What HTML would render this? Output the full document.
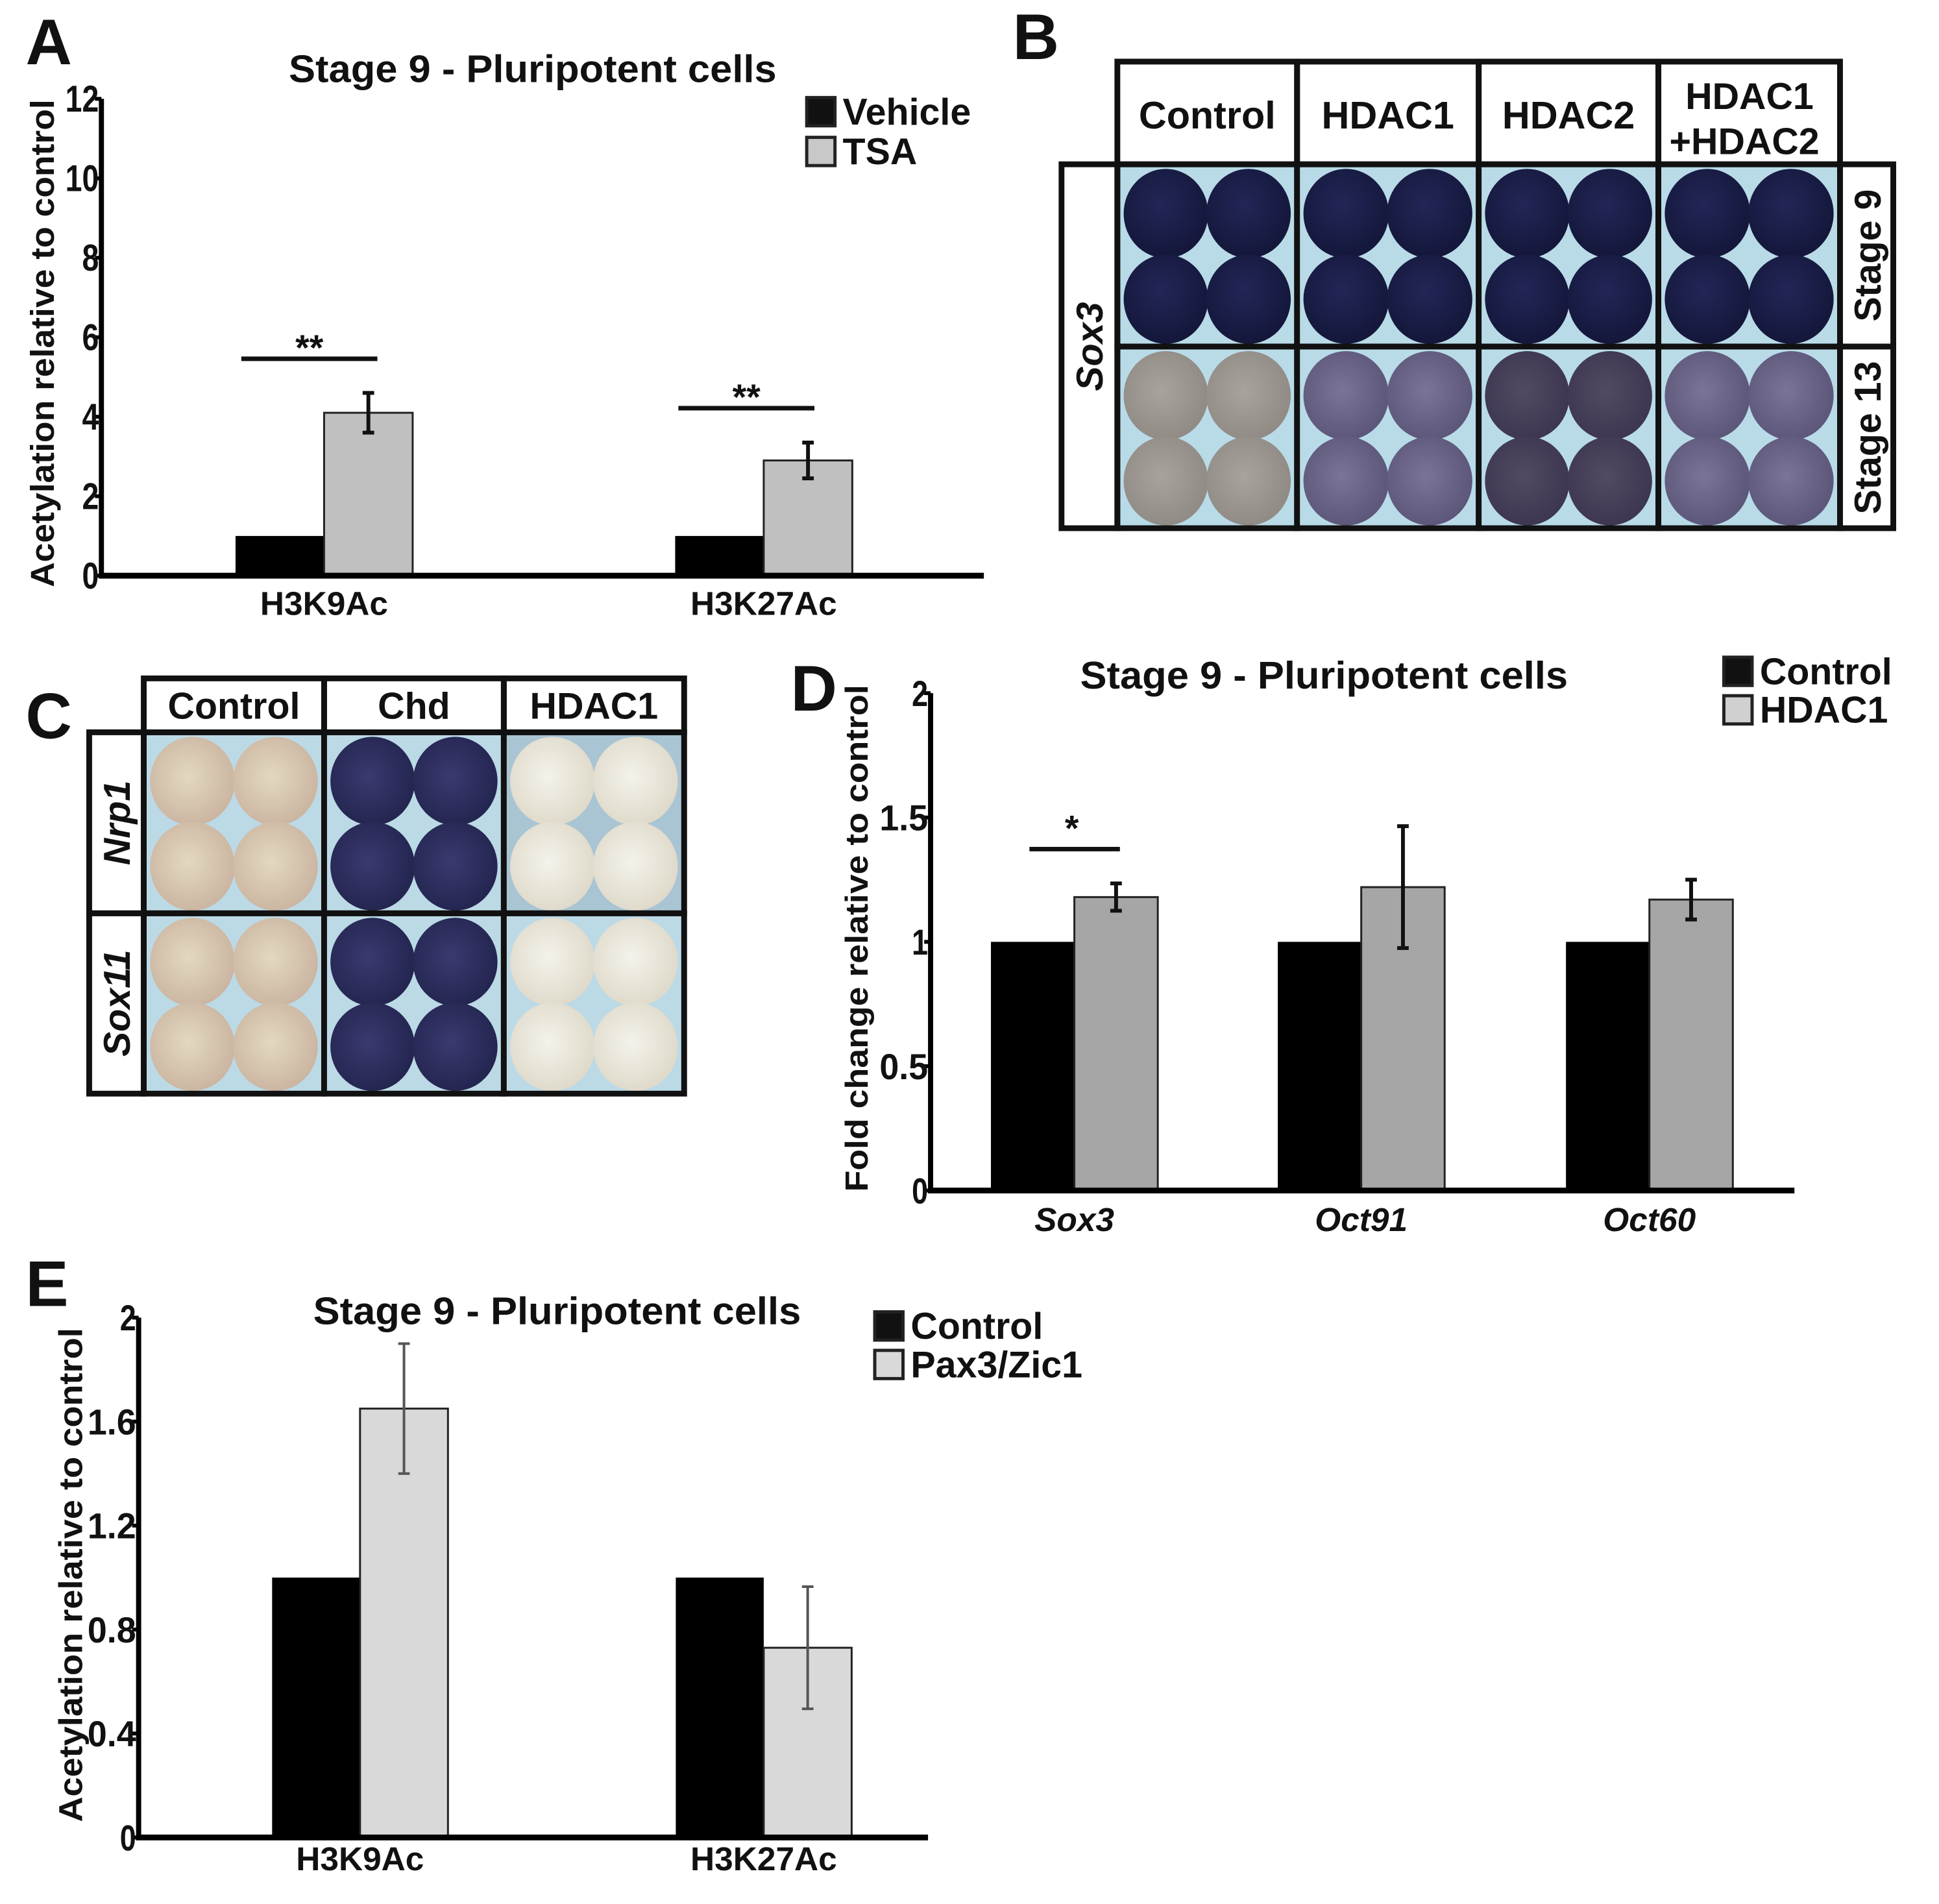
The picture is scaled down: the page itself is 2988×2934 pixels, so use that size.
<!DOCTYPE html>
<html><head><meta charset="utf-8"><style>
html,body{margin:0;padding:0;background:#fff}
svg{display:block}
text{font-family:"Liberation Sans",Arial,sans-serif;font-weight:bold;fill:#111}
</style></head><body>
<svg id="fig" width="2988" height="2934" viewBox="0 0 2988 2934" xmlns="http://www.w3.org/2000/svg">
<defs>
<radialGradient id="gNavy" cx="45%" cy="40%" r="60%"><stop offset="0" stop-color="#222657"/><stop offset="1" stop-color="#14173a"/></radialGradient>
<radialGradient id="gGrey" cx="45%" cy="45%" r="60%"><stop offset="0" stop-color="#a8a39c"/><stop offset="1" stop-color="#8f8984"/></radialGradient>
<radialGradient id="gPurp" cx="45%" cy="45%" r="60%"><stop offset="0" stop-color="#7a7496"/><stop offset="1" stop-color="#5a5578"/></radialGradient>
<radialGradient id="gDark" cx="45%" cy="45%" r="60%"><stop offset="0" stop-color="#514a62"/><stop offset="1" stop-color="#3c3550"/></radialGradient>
<radialGradient id="gBeige" cx="45%" cy="45%" r="60%"><stop offset="0" stop-color="#e3d8c0"/><stop offset="1" stop-color="#c9b39f"/></radialGradient>
<radialGradient id="gChd" cx="45%" cy="45%" r="60%"><stop offset="0" stop-color="#3a3a70"/><stop offset="1" stop-color="#22244e"/></radialGradient>
<radialGradient id="gWhite" cx="45%" cy="45%" r="60%"><stop offset="0" stop-color="#f4f2ea"/><stop offset="1" stop-color="#ddd8c8"/></radialGradient>
</defs>
<g transform="scale(0.989)">
<g id="panelA"></g>
<g id="panelB"></g>
<g id="panelC"></g>
<g id="panelD"></g>
<g id="panelE"></g>
</g>
</svg>
<script>
// ---- Data ----
const aCategories = ["H3K9Ac","H3K27Ac"];
const aVehicle = [1,1];
const aTSA = [4.1,2.9];
const aTSAErr = [0.5,0.45];
const aTicks = [0,2,4,6,8,10,12];
const aSig = ["**","**"];

const dCategories = ["Sox3","Oct91","Oct60"];
const dControl = [1,1,1];
const dHDAC1 = [1.18,1.22,1.17];
const dHDAC1Err = [0.055,0.245,0.08];
const dTicks = [0,0.5,1,1.5,2];
const dTickLabels = ["0","0.5","1","1.5","2"];

const eCategories = ["H3K9Ac","H3K27Ac"];
const eControl = [1,1];
const ePax = [1.65,0.73];
const ePaxErr = [0.25,0.235];
const eTicks = [0,0.4,0.8,1.2,1.6,2];
const eTickLabels = ["0","0.4","0.8","1.2","1.6","2"];

const NS="http://www.w3.org/2000/svg";
function mk(parent,tag,attrs,txt){const e=document.createElementNS(NS,tag);for(const k in attrs)e.setAttribute(k,attrs[k]);if(txt!==undefined)e.textContent=txt;parent.appendChild(e);return e;}

function chart(g,cfg){
  const y=v=>cfg.y0-(v-cfg.vmin)/(cfg.vmax-cfg.vmin)*(cfg.y0-cfg.ytop);
  let ax=mk(g,'line',{x1:cfg.x0,y1:cfg.ytop,x2:cfg.x0,y2:cfg.y0+4,stroke:'#000','stroke-width':8});
  
  cfg.ticks.forEach((t,i)=>{
    const tk=mk(g,'line',{x1:cfg.x0-10,y1:y(t),x2:cfg.x0,y2:y(t),stroke:'#000','stroke-width':6});
    
    const tl=mk(g,'text',{x:cfg.x0-4,y:y(t)+20,'text-anchor':'end','font-size':cfg.tickFs,textLength:cfg.tickLabels[i].length*cfg.tickFs*0.45,lengthAdjust:'spacingAndGlyphs'},cfg.tickLabels[i]);
    
  });
  const bw=cfg.barW;
  cfg.cats.forEach((c,i)=>{
    const cx=cfg.centers[i];
    const b1=mk(g,'rect',{x:cx-bw,y:y(cfg.s1[i]),width:bw,height:cfg.y0-y(cfg.s1[i]),fill:'#000'});
    
    const b2=mk(g,'rect',{x:cx,y:y(cfg.s2[i]),width:bw,height:cfg.y0-y(cfg.s2[i]),fill:cfg.c2,stroke:'#222','stroke-width':3});
    
    const ex=cx+bw/2, hi=y(cfg.s2[i]+cfg.err[i]), lo=y(cfg.s2[i]-cfg.err[i]);
    const eb=mk(g,'path',{d:`M${ex},${hi}V${lo}M${ex-9},${hi}H${ex+9}M${ex-9},${lo}H${ex+9}`,stroke:cfg.errC,'stroke-width':cfg.errW,fill:'none'});
    
    const xl=mk(g,'text',{x:cx,y:cfg.xlabY,'text-anchor':'middle','font-size':cfg.xFs,'font-style':cfg.italic?'italic':'normal'},c);
    
  });
  let xa=mk(g,'line',{x1:cfg.x0-4,y1:cfg.y0,x2:cfg.xend,y2:cfg.y0,stroke:'#000','stroke-width':9});
  
  const yl=mk(g,'text',{x:0,y:0,'text-anchor':'middle','font-size':cfg.ylFs,transform:`translate(${cfg.ylX},${cfg.ylY}) rotate(-90)`,textLength:cfg.ylLen,lengthAdjust:'spacingAndGlyphs'},cfg.ylabel);
  
  const tt=mk(g,'text',{x:cfg.titleX,y:cfg.titleY,'text-anchor':'middle','font-size':60,textLength:cfg.titleLen,lengthAdjust:'spacingAndGlyphs'},'Stage 9 - Pluripotent cells');
  
  const pl=mk(g,'text',{x:cfg.plX,y:cfg.plY,'font-size':100},cfg.panel);
  
  cfg.legend.forEach((L,i)=>{
    const sq=mk(g,'rect',{x:cfg.lgX,y:cfg.lgY+i*cfg.lgDy,width:44,height:44,fill:L[1],stroke:'#222','stroke-width':5});
    
    const lt=mk(g,'text',{x:cfg.lgX+56,y:cfg.lgY+i*cfg.lgDy+42,'font-size':58},L[0]);
    
  });
  return y;
}

// Panel A
const gA=document.getElementById('panelA');
chart(gA,{x0:158,y0:897,ytop:154,vmin:0,vmax:12,ticks:aTicks,tickLabels:aTicks.map(String),tickFs:58,
 cats:aCategories,centers:[505,1190],barW:138,s1:aVehicle,s2:aTSA,err:aTSAErr,n1:'vehicle',n2:'tsa',c2:'#c0c0c0',errC:'#111',errW:6,
 xend:1533,xlabY:958,xFs:52,italic:false,ylabel:'Acetylation relative to control',ylX:84,ylY:535,ylLen:760,ylFs:52,
 titleX:830,titleY:128,titleLen:760,panel:'A',plX:40,plY:100,legend:[['Vehicle','#111'],['TSA','#c8c8c8']],lgX:1257,lgY:152,lgDy:62});
[[376,588,559,482],[1057,1269,636,1163]].forEach((s,i)=>{
  const l=mk(gA,'line',{x1:s[0],y1:s[2],x2:s[1],y2:s[2],stroke:'#111','stroke-width':7});
  
  const t=mk(gA,'text',{x:s[3],y:s[2]+2,'text-anchor':'middle','font-size':56},aSig[i]);
  
});

// Panel D
const gD=document.getElementById('panelD');
chart(gD,{x0:1450,y0:1855,ytop:1080,vmin:0,vmax:2,ticks:dTicks,tickLabels:dTickLabels,tickFs:56,
 cats:dCategories,centers:[1674,2121,2570],barW:130,s1:dControl,s2:dHDAC1,err:dHDAC1Err,n1:'control',n2:'hdac1',c2:'#a6a6a6',errC:'#111',errW:6,
 xend:2796,xlabY:1918,xFs:52,italic:true,ylabel:'Fold change relative to control',ylX:1352,ylY:1462,ylLen:790,ylFs:50,
 titleX:2063,titleY:1073,titleLen:760,panel:'D',plX:1232,plY:1107,legend:[['Control','#111'],['HDAC1','#d0d0d0']],lgX:2686,lgY:1024,lgDy:60});
{const l=mk(gD,'line',{x1:1604,y1:1323,x2:1745,y2:1323,stroke:'#111','stroke-width':7});

const t=mk(gD,'text',{x:1670,y:1310,'text-anchor':'middle','font-size':56},'*');
}

// Panel E
const gE=document.getElementById('panelE');
chart(gE,{x0:216,y0:2863,ytop:2053,vmin:0,vmax:2,ticks:eTicks,tickLabels:eTickLabels,tickFs:56,
 cats:eCategories,centers:[561,1190],barW:137,s1:eControl,s2:ePax,err:ePaxErr,n1:'control',n2:'pax3-zic1',c2:'#d9d9d9',errC:'#555',errW:4,
 xend:1446,xlabY:2914,xFs:52,italic:false,ylabel:'Acetylation relative to control',ylX:128,ylY:2454,ylLen:770,ylFs:52,
 titleX:868,titleY:2063,titleLen:760,panel:'E',plX:40,plY:2035,legend:[['Control','#111'],['Pax3/Zic1','#d9d9d9']],lgX:1363,lgY:2044,lgDy:60});

function cellImg(g,x,y,w,h,bg,fills,name){
  const r=mk(g,'rect',{x:x,y:y,width:w,height:h,fill:bg});
  
  const pos=[[0.27,0.27],[0.73,0.27],[0.27,0.74],[0.73,0.74]];
  pos.forEach((p,i)=>{
    const e=mk(g,'ellipse',{cx:x+p[0]*w,cy:y+p[1]*h,rx:w*0.235,ry:h*0.245,fill:fills[i%fills.length]});
    
  });
}
function box(g,x,y,w,h,name){const r=mk(g,'rect',{x:x,y:y,width:w,height:h,fill:'none',stroke:'#111','stroke-width':9});}

// Panel B
const gB=document.getElementById('panelB');
{const pl=mk(gB,'text',{x:1578,y:92,'font-size':100},'B');}
const bCols=[1741,2021,2304,2584,2867];
const bHeads=['Control','HDAC1','HDAC2'];
const bStage9=['url(#gNavy)','url(#gNavy)','url(#gNavy)','url(#gNavy)'];
const bStage13=['url(#gGrey)','url(#gPurp)','url(#gDark)','url(#gPurp)'];
for(let i=0;i<4;i++){
  const x=bCols[i],w=bCols[i+1]-bCols[i];
  cellImg(gB,x,256,w,284,'#b9dbe8',[bStage9[i]],'b-stage9-cell');
  cellImg(gB,x,540,w,283,'#b9dbe8',[bStage13[i]],'b-stage13-cell');
  box(gB,x,96,w,160,'b-header-cell');box(gB,x,256,w,284,'b-cell-border');box(gB,x,540,w,283,'b-cell-border');
  if(i<3){const t=mk(gB,'text',{x:x+w/2,y:200,'text-anchor':'middle','font-size':60},bHeads[i]);}
}
{let t=mk(gB,'text',{x:2726,y:170,'text-anchor':'middle','font-size':58},'HDAC1');
t=mk(gB,'text',{x:2718,y:240,'text-anchor':'middle','font-size':58},'+HDAC2');}
box(gB,1654,256,87,567,'sox3-label-box');
{let t=mk(gB,'text',{x:0,y:0,'text-anchor':'middle','font-size':58,'font-style':'italic',transform:'translate(1718,540) rotate(-90)'},'Sox3');}
box(gB,2867,256,83,284,'stage-label-box');box(gB,2867,540,83,283,'stage-label-box');
{let t=mk(gB,'text',{x:0,y:0,'text-anchor':'middle','font-size':58,transform:'translate(2930,398) rotate(-90)'},'Stage 9');
t=mk(gB,'text',{x:0,y:0,'text-anchor':'middle','font-size':58,transform:'translate(2930,682) rotate(-90)'},'Stage 13');}

// Panel C
const gC=document.getElementById('panelC');
{const pl=mk(gC,'text',{x:40,y:1150,'font-size':100},'C');}
const cCols=[224,505,785,1066];
const cHeads=['Control','Chd','HDAC1'];
const cFill=['url(#gBeige)','url(#gChd)','url(#gWhite)'];
const cBg1=['#bcd9e6','#bcd9e6','#a9c4d3'];
for(let i=0;i<3;i++){
  const x=cCols[i],w=cCols[i+1]-cCols[i];
  cellImg(gC,x,1141,w,282,cBg1[i],[cFill[i]],'c-nrp1-cell');
  cellImg(gC,x,1423,w,281,'#bcd9e6',[cFill[i]],'c-sox11-cell');
  box(gC,x,1057,w,84,'c-header-cell');box(gC,x,1141,w,282,'c-cell-border');box(gC,x,1423,w,281,'c-cell-border');
  const t=mk(gC,'text',{x:x+w/2,y:1120,'text-anchor':'middle','font-size':58},cHeads[i]);
}
box(gC,139,1141,85,282,'nrp1-label-box');box(gC,139,1423,85,281,'sox11-label-box');
{let t=mk(gC,'text',{x:0,y:0,'text-anchor':'middle','font-size':58,'font-style':'italic',transform:'translate(202,1282) rotate(-90)'},'Nrp1');
t=mk(gC,'text',{x:0,y:0,'text-anchor':'middle','font-size':58,'font-style':'italic',transform:'translate(202,1563) rotate(-90)'},'Sox11');}
</script>
</body></html>
